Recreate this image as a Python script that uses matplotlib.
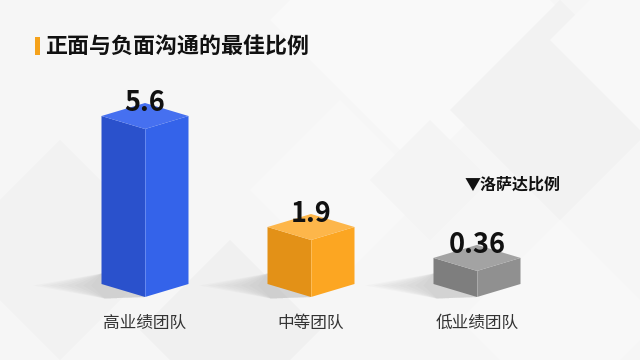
import matplotlib
matplotlib.use("Agg")
import matplotlib.pyplot as plt
from matplotlib.patches import Polygon, Rectangle

plt.rcParams['font.family'] = ['Noto Sans CJK SC', 'DejaVu Sans']

categories = ["高业绩团队", "中等团队", "低业绩团队"]
values = [5.6, 1.9, 0.36]
value_labels = ["5.6", "1.9", "0.36"]
title = "正面与负面沟通的最佳比例"
note = "▼洛萨达比例"

face_colors = [
    ("#2A51CC", "#3463EA", "#4670F0"),   # left, right, top
    ("#E39117", "#FCA622", "#FDB64A"),
    ("#7E7E7E", "#909090", "#A3A3A3"),
]

W, H = 640, 360
fig = plt.figure(figsize=(6.4, 3.6), dpi=100)
fig.patch.set_facecolor("#F6F6F6")

# background decoration (figure pixel coords, y from top)
bg = fig.add_axes([0, 0, 1, 1], zorder=0)
bg.set_xlim(0, W)
bg.set_ylim(H, 0)
bg.axis("off")
def diamond(cx, cy, r, color, alpha=1.0):
    bg.add_patch(Polygon([(cx, cy - r), (cx + r, cy), (cx, cy + r), (cx - r, cy)],
                         closed=True, facecolor=color, edgecolor="none", alpha=alpha))
bg.add_patch(Rectangle((0, 0), W, H, facecolor="#F6F6F6", edgecolor="none"))
diamond(420, 20, 150, "#F9F9F9")
diamond(560, 110, 110, "#F2F2F2")
diamond(640, 40, 90, "#F8F8F8")
diamond(340, 190, 90, "#F8F8F8")
diamond(60, 250, 110, "#F2F2F2")
diamond(230, 330, 90, "#F0F0F0")
diamond(430, 180, 60, "#F4F4F4")
diamond(560, 320, 100, "#F8F8F8")

# main axes: data -> pixels through the axes scales
ax = fig.add_axes([0, 0, 1, 1], zorder=1)
ax.patch.set_alpha(0)
ax.axis("off")
px_x = 166.0   # px per category unit
px_y = 30.0    # px per value unit
x0_px, base_px = 145.0, 63.0
ax.set_xlim(-x0_px / px_x, (W - x0_px) / px_x)
ax.set_ylim(-base_px / px_y, (H - base_px) / px_y)

half_w = 43.5 / px_x
slant = 13.0 / px_y
min_disp = 0.87

for i, (v, lab, cat) in enumerate(zip(values, value_labels, categories)):
    h = max(v, min_disp)
    cl, cr, ct = face_colors[i]
    x = i
    # soft shadow to the left of the base
    for k in range(8):
        ext = 0.06 + 0.05 * k
        ax.add_patch(Polygon([(x - half_w - ext, slant - 0.05), (x - half_w, slant + 0.35),
                              (x, 0.0), (x - half_w + 0.02, -0.05)],
                             closed=True, facecolor="#9A9A9A", edgecolor="none",
                             alpha=0.05, zorder=2))
    left = Polygon([(x - half_w, slant), (x, 0), (x, h), (x - half_w, h + slant)],
                   closed=True, facecolor=cl, edgecolor="none", zorder=3)
    right = Polygon([(x, 0), (x + half_w, slant), (x + half_w, h + slant), (x, h)],
                    closed=True, facecolor=cr, edgecolor="none", zorder=3)
    top = Polygon([(x, h), (x + half_w, h + slant), (x, h + 2 * slant), (x - half_w, h + slant)],
                  closed=True, facecolor=ct, edgecolor="none", zorder=3)
    for p in (left, right, top):
        ax.add_patch(p)
    ax.plot([x, x], [0, h], color="white", lw=0.5, alpha=0.35, zorder=4)
    ax.text(x, h + 2 * slant, lab, ha="center", va="center", fontsize=19.5,
            fontweight="bold", color="#111111", zorder=5)
    ax.text(x, -26 / px_y, cat, ha="center", va="center", fontsize=12,
            color="#333333", zorder=5)

# note above the low-performance bar
ax.text(2 - 12 / px_x, values[2] + 3.4, note, ha="left", va="center", fontsize=11.5,
        fontweight="bold", color="#111111", zorder=5)

# title and accent mark
fig.patches.append(Rectangle((35 / W, 1 - 55 / H), 5 / W, 18 / H, transform=fig.transFigure,
                             facecolor="#F5A21B", edgecolor="none", zorder=5))
fig.text(45 / W, 1 - 46 / H, title, ha="left", va="center", fontsize=15.8,
         fontweight="bold", color="#111111", zorder=5)

fig.savefig("out.png", dpi=100, facecolor=fig.get_facecolor())
